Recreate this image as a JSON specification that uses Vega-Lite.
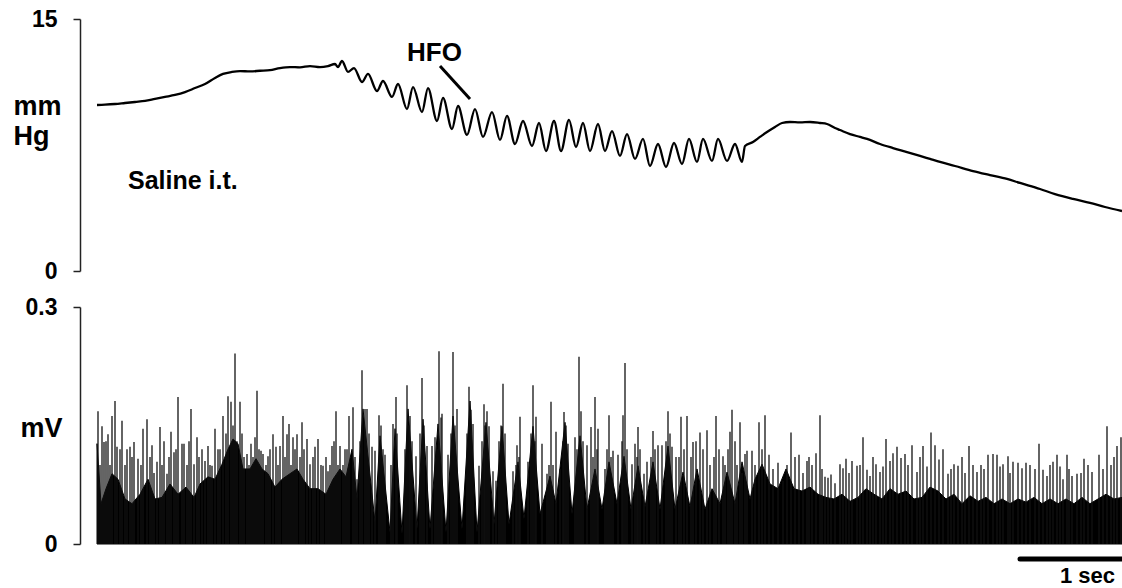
{
  "$schema": "https://vega.github.io/schema/vega-lite/v6.json",
  "background": "white",
  "padding": {"left": 13, "top": 8, "right": 0, "bottom": 0},
  "config": {"view": {"stroke": null}, "font": "Liberation Sans"},
  "spacing": 36,
  "bounds": "flush",
  "datasets": {
    "pressure": [
      {"t":0,"mmHg":9.88},{"t":0.08,"mmHg":9.9},{"t":0.18,"mmHg":9.94},{"t":0.28,"mmHg":10.0},{"t":0.38,"mmHg":10.06},{"t":0.48,"mmHg":10.12},{"t":0.58,"mmHg":10.24},{"t":0.68,"mmHg":10.36},{"t":0.78,"mmHg":10.48},{"t":0.88,"mmHg":10.65},{"t":0.98,"mmHg":10.89},{"t":1.08,"mmHg":11.13},{"t":1.18,"mmHg":11.49},{"t":1.26,"mmHg":11.73},{"t":1.35,"mmHg":11.85},{"t":1.43,"mmHg":11.9},{"t":1.53,"mmHg":11.88},{"t":1.63,"mmHg":11.92},{"t":1.73,"mmHg":11.96},{"t":1.83,"mmHg":12.08},{"t":1.93,"mmHg":12.14},{"t":2.03,"mmHg":12.12},{"t":2.13,"mmHg":12.2},{"t":2.23,"mmHg":12.14},{"t":2.31,"mmHg":12.2},{"t":2.38,"mmHg":12.32},{"t":2.41,"mmHg":12.14},{"t":2.45,"mmHg":12.5},
      {"t":2.51,"mmHg":11.85},{"t":2.57,"mmHg":12.08},{"t":2.65,"mmHg":11.25},{"t":2.71,"mmHg":11.73},{"t":2.8,"mmHg":10.71},{"t":2.86,"mmHg":11.31},{"t":2.95,"mmHg":10.36},{"t":3.01,"mmHg":11.13},{"t":3.1,"mmHg":9.64},{"t":3.16,"mmHg":10.95},{"t":3.25,"mmHg":9.46},{"t":3.31,"mmHg":10.89},{"t":3.4,"mmHg":8.93},{"t":3.46,"mmHg":10.3},{"t":3.55,"mmHg":8.45},{"t":3.61,"mmHg":9.82},{"t":3.7,"mmHg":8.1},{"t":3.78,"mmHg":9.64},{"t":3.86,"mmHg":7.98},{"t":3.95,"mmHg":9.46},{"t":4.03,"mmHg":7.8},{"t":4.1,"mmHg":9.23},{"t":4.18,"mmHg":7.56},{"t":4.26,"mmHg":8.93},{"t":4.35,"mmHg":7.44},{"t":4.42,"mmHg":8.81},{"t":4.49,"mmHg":7.14},{"t":4.57,"mmHg":8.93},{"t":4.64,"mmHg":7.14},{"t":4.72,"mmHg":8.99},{"t":4.79,"mmHg":7.38},{"t":4.86,"mmHg":8.81},{"t":4.93,"mmHg":7.14},{"t":5.01,"mmHg":8.75},{"t":5.08,"mmHg":7.14},{"t":5.15,"mmHg":8.33},{"t":5.23,"mmHg":6.85},{"t":5.3,"mmHg":8.15},{"t":5.38,"mmHg":6.67},{"t":5.46,"mmHg":7.86},{"t":5.53,"mmHg":6.25},{"t":5.61,"mmHg":7.56},{"t":5.69,"mmHg":6.19},{"t":5.77,"mmHg":7.62},{"t":5.85,"mmHg":6.37},{"t":5.92,"mmHg":7.86},{"t":6.0,"mmHg":6.49},{"t":6.06,"mmHg":7.86},{"t":6.15,"mmHg":6.55},{"t":6.21,"mmHg":7.86},{"t":6.3,"mmHg":6.55},{"t":6.38,"mmHg":7.56},{"t":6.45,"mmHg":6.49},
      {"t":6.48,"mmHg":7.44},{"t":6.56,"mmHg":7.68},{"t":6.63,"mmHg":7.98},{"t":6.7,"mmHg":8.27},{"t":6.78,"mmHg":8.57},{"t":6.85,"mmHg":8.81},{"t":6.93,"mmHg":8.87},{"t":7.03,"mmHg":8.85},{"t":7.13,"mmHg":8.87},{"t":7.23,"mmHg":8.81},{"t":7.3,"mmHg":8.75},{"t":7.38,"mmHg":8.51},{"t":7.43,"mmHg":8.39},{"t":7.53,"mmHg":8.15},{"t":7.63,"mmHg":7.98},{"t":7.7,"mmHg":7.86},{"t":7.83,"mmHg":7.56},{"t":7.96,"mmHg":7.32},{"t":8.1,"mmHg":7.08},{"t":8.23,"mmHg":6.85},{"t":8.33,"mmHg":6.67},{"t":8.43,"mmHg":6.49},{"t":8.58,"mmHg":6.25},{"t":8.76,"mmHg":5.95},{"t":8.93,"mmHg":5.71},{"t":9.1,"mmHg":5.48},{"t":9.23,"mmHg":5.24},{"t":9.43,"mmHg":4.88},{"t":9.58,"mmHg":4.58},{"t":9.76,"mmHg":4.29},{"t":9.93,"mmHg":4.05},{"t":10.08,"mmHg":3.81},{"t":10.25,"mmHg":3.57}
    ],
    "envelope": [
      {"t":0,"mV":0.127},{"t":0.04,"mV":0.051},{"t":0.09,"mV":0.07},{"t":0.15,"mV":0.089},{"t":0.21,"mV":0.082},{"t":0.28,"mV":0.057},{"t":0.35,"mV":0.051},{"t":0.43,"mV":0.063},{"t":0.51,"mV":0.082},{"t":0.58,"mV":0.057},{"t":0.65,"mV":0.059},{"t":0.73,"mV":0.076},{"t":0.81,"mV":0.063},{"t":0.89,"mV":0.072},{"t":0.97,"mV":0.059},{"t":1.03,"mV":0.076},{"t":1.11,"mV":0.085},{"t":1.18,"mV":0.082},{"t":1.25,"mV":0.101},{"t":1.31,"mV":0.12},{"t":1.36,"mV":0.133},{"t":1.41,"mV":0.127},{"t":1.46,"mV":0.095},{"t":1.53,"mV":0.095},{"t":1.59,"mV":0.108},{"t":1.65,"mV":0.095},{"t":1.71,"mV":0.089},{"t":1.78,"mV":0.072},{"t":1.85,"mV":0.082},{"t":1.93,"mV":0.089},{"t":2.0,"mV":0.095},{"t":2.06,"mV":0.082},{"t":2.13,"mV":0.07},{"t":2.21,"mV":0.07},{"t":2.29,"mV":0.063},{"t":2.36,"mV":0.082},{"t":2.43,"mV":0.095},{"t":2.49,"mV":0.085},{"t":2.55,"mV":0.12},{"t":2.6,"mV":0.057},
      {"t":2.66,"mV":0.171},{"t":2.78,"mV":0.028},{"t":2.83,"mV":0.137},{"t":2.93,"mV":0.015},{"t":2.98,"mV":0.146},{"t":3.05,"mV":0.013},{"t":3.11,"mV":0.171},{"t":3.2,"mV":0.019},{"t":3.26,"mV":0.158},{"t":3.33,"mV":0.019},{"t":3.41,"mV":0.152},{"t":3.49,"mV":0.015},{"t":3.56,"mV":0.162},{"t":3.65,"mV":0.019},{"t":3.73,"mV":0.181},{"t":3.8,"mV":0.015},{"t":3.89,"mV":0.154},{"t":3.97,"mV":0.025},{"t":4.05,"mV":0.149},{"t":4.12,"mV":0.025},{"t":4.21,"mV":0.104},{"t":4.27,"mV":0.032},{"t":4.36,"mV":0.149},{"t":4.43,"mV":0.038},{"t":4.53,"mV":0.086},{"t":4.59,"mV":0.051},{"t":4.68,"mV":0.154},{"t":4.75,"mV":0.038},{"t":4.83,"mV":0.137},{"t":4.9,"mV":0.044},{"t":4.98,"mV":0.095},{"t":5.05,"mV":0.044},{"t":5.12,"mV":0.104},{"t":5.2,"mV":0.051},{"t":5.27,"mV":0.111},{"t":5.34,"mV":0.044},{"t":5.41,"mV":0.099},{"t":5.48,"mV":0.047},{"t":5.56,"mV":0.104},{"t":5.63,"mV":0.044},{"t":5.71,"mV":0.124},{"t":5.78,"mV":0.044},{"t":5.86,"mV":0.091},{"t":5.93,"mV":0.047},{"t":6.0,"mV":0.095},{"t":6.08,"mV":0.044},{"t":6.15,"mV":0.07},{"t":6.23,"mV":0.051},{"t":6.3,"mV":0.091},{"t":6.38,"mV":0.051},{"t":6.45,"mV":0.104},{"t":6.53,"mV":0.057},
      {"t":6.58,"mV":0.082},{"t":6.65,"mV":0.101},{"t":6.73,"mV":0.076},{"t":6.81,"mV":0.07},{"t":6.89,"mV":0.095},{"t":6.97,"mV":0.07},{"t":7.05,"mV":0.067},{"t":7.13,"mV":0.072},{"t":7.21,"mV":0.063},{"t":7.29,"mV":0.059},{"t":7.37,"mV":0.057},{"t":7.45,"mV":0.063},{"t":7.53,"mV":0.054},{"t":7.61,"mV":0.059},{"t":7.69,"mV":0.07},{"t":7.77,"mV":0.063},{"t":7.85,"mV":0.057},{"t":7.93,"mV":0.07},{"t":8.01,"mV":0.063},{"t":8.09,"mV":0.067},{"t":8.17,"mV":0.057},{"t":8.25,"mV":0.059},{"t":8.33,"mV":0.072},{"t":8.41,"mV":0.067},{"t":8.49,"mV":0.057},{"t":8.57,"mV":0.063},{"t":8.65,"mV":0.051},{"t":8.73,"mV":0.061},{"t":8.81,"mV":0.054},{"t":8.89,"mV":0.059},{"t":8.97,"mV":0.051},{"t":9.05,"mV":0.057},{"t":9.13,"mV":0.051},{"t":9.21,"mV":0.057},{"t":9.29,"mV":0.053},{"t":9.37,"mV":0.059},{"t":9.45,"mV":0.051},{"t":9.53,"mV":0.057},{"t":9.61,"mV":0.051},{"t":9.69,"mV":0.057},{"t":9.77,"mV":0.051},{"t":9.85,"mV":0.059},{"t":9.93,"mV":0.051},{"t":10.01,"mV":0.057},{"t":10.09,"mV":0.063},{"t":10.17,"mV":0.057},{"t":10.25,"mV":0.059}
    ],
    "spikes": [
      {"t":0.01,"mV":0.168},{"t":0.03,"mV":0.1},{"t":0.05,"mV":0.149},{"t":0.07,"mV":0.129},{"t":0.09,"mV":0.13},{"t":0.11,"mV":0.139},{"t":0.13,"mV":0.1},{"t":0.15,"mV":0.162},{"t":0.18,"mV":0.181},{"t":0.2,"mV":0.123},{"t":0.23,"mV":0.12},{"t":0.25,"mV":0.156},{"t":0.28,"mV":0.1},{"t":0.3,"mV":0.12},{"t":0.33,"mV":0.123},{"t":0.35,"mV":0.11},{"t":0.37,"mV":0.129},{"t":0.41,"mV":0.108},{"t":0.44,"mV":0.1},{"t":0.46,"mV":0.146},{"t":0.5,"mV":0.158},{"t":0.53,"mV":0.11},{"t":0.55,"mV":0.125},{"t":0.57,"mV":0.09},{"t":0.6,"mV":0.104},{"t":0.63,"mV":0.148},{"t":0.65,"mV":0.1},{"t":0.67,"mV":0.13},{"t":0.7,"mV":0.089},{"t":0.72,"mV":0.11},{"t":0.74,"mV":0.142},{"t":0.77,"mV":0.116},{"t":0.79,"mV":0.12},{"t":0.81,"mV":0.186},{"t":0.85,"mV":0.127},{"t":0.87,"mV":0.127},{"t":0.9,"mV":0.1},{"t":0.92,"mV":0.13},{"t":0.94,"mV":0.171},{"t":0.97,"mV":0.101},{"t":1.0,"mV":0.135},{"t":1.02,"mV":0.11},{"t":1.05,"mV":0.12},{"t":1.08,"mV":0.105},{"t":1.11,"mV":0.124},{"t":1.13,"mV":0.1},{"t":1.15,"mV":0.099},{"t":1.18,"mV":0.146},{"t":1.21,"mV":0.12},{"t":1.23,"mV":0.12},{"t":1.26,"mV":0.162},{"t":1.29,"mV":0.14},{"t":1.31,"mV":0.187},{"t":1.34,"mV":0.18},{"t":1.36,"mV":0.15},{"t":1.38,"mV":0.241},{"t":1.4,"mV":0.13},{"t":1.43,"mV":0.18},{"t":1.45,"mV":0.14},{"t":1.47,"mV":0.11},{"t":1.5,"mV":0.114},{"t":1.52,"mV":0.1},{"t":1.54,"mV":0.127},{"t":1.56,"mV":0.11},{"t":1.58,"mV":0.135},{"t":1.6,"mV":0.194},{"t":1.62,"mV":0.12},{"t":1.64,"mV":0.118},{"t":1.66,"mV":0.114},{"t":1.69,"mV":0.1},{"t":1.71,"mV":0.111},{"t":1.73,"mV":0.12},{"t":1.76,"mV":0.139},{"t":1.79,"mV":0.123},{"t":1.81,"mV":0.1},{"t":1.83,"mV":0.124},{"t":1.86,"mV":0.162},{"t":1.88,"mV":0.11},{"t":1.9,"mV":0.139},{"t":1.92,"mV":0.152},{"t":1.94,"mV":0.1},{"t":1.96,"mV":0.135},{"t":1.98,"mV":0.12},{"t":2.0,"mV":0.139},{"t":2.03,"mV":0.11},{"t":2.05,"mV":0.154},{"t":2.07,"mV":0.12},{"t":2.1,"mV":0.133},{"t":2.13,"mV":0.101},{"t":2.16,"mV":0.11},{"t":2.18,"mV":0.123},{"t":2.21,"mV":0.133},{"t":2.24,"mV":0.1},{"t":2.26,"mV":0.099},{"t":2.29,"mV":0.11},{"t":2.31,"mV":0.092},{"t":2.33,"mV":0.1},{"t":2.35,"mV":0.124},{"t":2.37,"mV":0.13},{"t":2.39,"mV":0.168},{"t":2.41,"mV":0.1},{"t":2.43,"mV":0.124},{"t":2.46,"mV":0.1},{"t":2.48,"mV":0.12},{"t":2.5,"mV":0.12},{"t":2.52,"mV":0.162},{"t":2.56,"mV":0.173},{"t":2.58,"mV":0.11},{"t":2.6,"mV":0.082},{"t":2.63,"mV":0.13},{"t":2.65,"mV":0.22},
      {"t":2.68,"mV":0.171},{"t":2.7,"mV":0.171},{"t":2.72,"mV":0.14},{"t":2.75,"mV":0.123},{"t":2.78,"mV":0.118},{"t":2.82,"mV":0.163},{"t":2.84,"mV":0.15},{"t":2.86,"mV":0.12},{"t":2.88,"mV":0.113},{"t":2.94,"mV":0.1},{"t":2.96,"mV":0.152},{"t":2.99,"mV":0.186},{"t":3.0,"mV":0.14},{"t":3.08,"mV":0.12},{"t":3.1,"mV":0.201},{"t":3.12,"mV":0.15},{"t":3.13,"mV":0.162},{"t":3.15,"mV":0.13},{"t":3.19,"mV":0.111},{"t":3.23,"mV":0.14},{"t":3.25,"mV":0.21},{"t":3.27,"mV":0.15},{"t":3.3,"mV":0.124},{"t":3.35,"mV":0.124},{"t":3.38,"mV":0.135},{"t":3.4,"mV":0.12},{"t":3.42,"mV":0.244},{"t":3.44,"mV":0.16},{"t":3.45,"mV":0.165},{"t":3.51,"mV":0.113},{"t":3.54,"mV":0.14},{"t":3.56,"mV":0.243},{"t":3.58,"mV":0.15},{"t":3.6,"mV":0.171},{"t":3.7,"mV":0.14},{"t":3.72,"mV":0.199},{"t":3.74,"mV":0.17},{"t":3.76,"mV":0.152},{"t":3.82,"mV":0.099},{"t":3.85,"mV":0.13},{"t":3.87,"mV":0.177},{"t":3.88,"mV":0.15},{"t":3.9,"mV":0.168},{"t":3.92,"mV":0.149},{"t":3.96,"mV":0.092},{"t":3.99,"mV":0.08},{"t":4.02,"mV":0.13},{"t":4.04,"mV":0.15},{"t":4.06,"mV":0.203},{"t":4.08,"mV":0.14},{"t":4.16,"mV":0.092},{"t":4.19,"mV":0.1},{"t":4.2,"mV":0.125},{"t":4.22,"mV":0.11},{"t":4.23,"mV":0.161},{"t":4.31,"mV":0.104},{"t":4.34,"mV":0.14},{"t":4.36,"mV":0.201},{"t":4.38,"mV":0.13},{"t":4.39,"mV":0.161},{"t":4.45,"mV":0.127},{"t":4.5,"mV":0.089},{"t":4.52,"mV":0.1},{"t":4.54,"mV":0.18},{"t":4.56,"mV":0.1},{"t":4.59,"mV":0.142},{"t":4.63,"mV":0.095},{"t":4.66,"mV":0.13},{"t":4.67,"mV":0.167},{"t":4.69,"mV":0.15},{"t":4.71,"mV":0.127},{"t":4.78,"mV":0.135},{"t":4.8,"mV":0.12},{"t":4.82,"mV":0.237},{"t":4.84,"mV":0.168},{"t":4.86,"mV":0.13},{"t":4.9,"mV":0.125},{"t":4.94,"mV":0.148},{"t":4.96,"mV":0.11},{"t":4.98,"mV":0.186},{"t":5.0,"mV":0.12},{"t":5.01,"mV":0.146},{"t":5.08,"mV":0.095},{"t":5.1,"mV":0.12},{"t":5.12,"mV":0.163},{"t":5.14,"mV":0.11},{"t":5.16,"mV":0.118},{"t":5.21,"mV":0.113},{"t":5.25,"mV":0.13},{"t":5.26,"mV":0.163},{"t":5.28,"mV":0.229},{"t":5.3,"mV":0.12},{"t":5.35,"mV":0.101},{"t":5.38,"mV":0.127},{"t":5.4,"mV":0.11},{"t":5.41,"mV":0.148},{"t":5.43,"mV":0.12},{"t":5.47,"mV":0.089},{"t":5.5,"mV":0.104},{"t":5.54,"mV":0.11},{"t":5.56,"mV":0.143},{"t":5.58,"mV":0.12},{"t":5.61,"mV":0.125},{"t":5.65,"mV":0.125},{"t":5.69,"mV":0.13},{"t":5.71,"mV":0.168},{"t":5.73,"mV":0.14},{"t":5.75,"mV":0.123},{"t":5.79,"mV":0.11},{"t":5.82,"mV":0.11},{"t":5.84,"mV":0.161},{"t":5.87,"mV":0.12},{"t":5.9,"mV":0.162},{"t":5.94,"mV":0.11},{"t":5.96,"mV":0.129},{"t":5.99,"mV":0.13},{"t":6.03,"mV":0.141},{"t":6.06,"mV":0.12},{"t":6.1,"mV":0.144},{"t":6.13,"mV":0.1},{"t":6.17,"mV":0.11},{"t":6.19,"mV":0.162},{"t":6.22,"mV":0.12},{"t":6.26,"mV":0.111},{"t":6.28,"mV":0.1},{"t":6.31,"mV":0.12},{"t":6.33,"mV":0.142},{"t":6.35,"mV":0.17},{"t":6.38,"mV":0.13},{"t":6.4,"mV":0.1},
      {"t":6.43,"mV":0.154},{"t":6.45,"mV":0.09},{"t":6.48,"mV":0.114},{"t":6.5,"mV":0.118},{"t":6.55,"mV":0.118},{"t":6.58,"mV":0.1},{"t":6.62,"mV":0.154},{"t":6.65,"mV":0.12},{"t":6.68,"mV":0.163},{"t":6.72,"mV":0.113},{"t":6.76,"mV":0.095},{"t":6.81,"mV":0.103},{"t":6.86,"mV":0.08},{"t":6.9,"mV":0.1},{"t":6.94,"mV":0.141},{"t":6.98,"mV":0.11},{"t":7.02,"mV":0.113},{"t":7.06,"mV":0.09},{"t":7.1,"mV":0.105},{"t":7.12,"mV":0.11},{"t":7.15,"mV":0.1},{"t":7.19,"mV":0.115},{"t":7.23,"mV":0.163},{"t":7.25,"mV":0.095},{"t":7.28,"mV":0.085},{"t":7.31,"mV":0.084},{"t":7.34,"mV":0.088},{"t":7.38,"mV":0.077},{"t":7.43,"mV":0.101},{"t":7.46,"mV":0.096},{"t":7.49,"mV":0.108},{"t":7.52,"mV":0.09},{"t":7.55,"mV":0.105},{"t":7.6,"mV":0.099},{"t":7.63,"mV":0.1},{"t":7.66,"mV":0.135},{"t":7.7,"mV":0.094},{"t":7.73,"mV":0.086},{"t":7.76,"mV":0.11},{"t":7.79,"mV":0.101},{"t":7.83,"mV":0.091},{"t":7.86,"mV":0.098},{"t":7.89,"mV":0.133},{"t":7.93,"mV":0.105},{"t":7.96,"mV":0.115},{"t":8.0,"mV":0.123},{"t":8.04,"mV":0.109},{"t":8.08,"mV":0.114},{"t":8.11,"mV":0.1},{"t":8.15,"mV":0.125},{"t":8.2,"mV":0.091},{"t":8.23,"mV":0.11},{"t":8.26,"mV":0.124},{"t":8.3,"mV":0.098},{"t":8.34,"mV":0.141},{"t":8.38,"mV":0.125},{"t":8.42,"mV":0.107},{"t":8.46,"mV":0.12},{"t":8.51,"mV":0.089},{"t":8.54,"mV":0.095},{"t":8.57,"mV":0.101},{"t":8.61,"mV":0.099},{"t":8.65,"mV":0.11},{"t":8.68,"mV":0.09},{"t":8.72,"mV":0.124},{"t":8.76,"mV":0.1},{"t":8.8,"mV":0.091},{"t":8.84,"mV":0.1},{"t":8.87,"mV":0.095},{"t":8.91,"mV":0.113},{"t":8.96,"mV":0.114},{"t":9.0,"mV":0.113},{"t":9.03,"mV":0.098},{"t":9.06,"mV":0.101},{"t":9.11,"mV":0.111},{"t":9.13,"mV":0.09},{"t":9.16,"mV":0.104},{"t":9.21,"mV":0.103},{"t":9.25,"mV":0.096},{"t":9.29,"mV":0.103},{"t":9.33,"mV":0.1},{"t":9.38,"mV":0.095},{"t":9.42,"mV":0.127},{"t":9.46,"mV":0.094},{"t":9.5,"mV":0.086},{"t":9.53,"mV":0.1},{"t":9.56,"mV":0.104},{"t":9.6,"mV":0.113},{"t":9.63,"mV":0.098},{"t":9.66,"mV":0.082},{"t":9.7,"mV":0.113},{"t":9.72,"mV":0.095},{"t":9.75,"mV":0.086},{"t":9.8,"mV":0.089},{"t":9.84,"mV":0.09},{"t":9.87,"mV":0.108},{"t":9.91,"mV":0.1},{"t":9.95,"mV":0.091},{"t":10.02,"mV":0.113},{"t":10.06,"mV":0.095},{"t":10.1,"mV":0.149},{"t":10.14,"mV":0.1},{"t":10.17,"mV":0.11},{"t":10.2,"mV":0.124},{"t":10.24,"mV":0.135}
    ]
  },
  "vconcat": [
    {
      "width": 1025,
      "height": 252,
      "layer": [
        {
          "data": {"name": "pressure"},
          "mark": {"type": "line", "color": "black", "strokeWidth": 2.3, "interpolate": "monotone"},
          "encoding": {
            "x": {"field": "t", "type": "quantitative", "scale": {"domain": [0, 10.25], "nice": false, "zero": false}, "axis": null},
            "y": {
              "field": "mmHg", "type": "quantitative",
              "scale": {"domain": [0, 15], "nice": false},
              "axis": {
                "values": [0, 15], "grid": false, "offset": 17, "tickSize": 7, "tickWidth": 1.5, "domainWidth": 1.5,
                "tickColor": "#222", "domainColor": "#222", "labelFlush": false,
                "labelFontSize": 23, "labelFontWeight": "bold", "labelColor": "black", "labelPadding": 16, "labelBaseline": "middle",
                "title": ["mm", "Hg"], "titleAngle": 0, "titleFontSize": 27, "titleFontWeight": "bold", "titleColor": "black",
                "titleAlign": "left", "titleBaseline": "alphabetic", "titleX": -67, "titleY": 95, "titleLineHeight": 30
              }
            }
          }
        },
        {
          "data": {"values": [{}]},
          "mark": {"type": "rule", "color": "black", "strokeWidth": 3},
          "encoding": {
            "x": {"datum": 3.43, "type": "quantitative", "scale": {"domain": [0, 10.25], "nice": false, "zero": false}},
            "x2": {"datum": 3.73},
            "y": {"datum": 12.2, "type": "quantitative", "scale": {"domain": [0, 15], "nice": false}},
            "y2": {"datum": 10.24}
          }
        },
        {
          "data": {"values": [{}]},
          "mark": {"type": "text", "text": "HFO", "fontSize": 26, "fontWeight": "bold", "align": "left", "baseline": "alphabetic", "color": "black"},
          "encoding": {
            "x": {"datum": 3.1, "type": "quantitative", "scale": {"domain": [0, 10.25], "nice": false, "zero": false}},
            "y": {"datum": 12.5, "type": "quantitative", "scale": {"domain": [0, 15], "nice": false}}
          }
        },
        {
          "data": {"values": [{}]},
          "mark": {"type": "text", "text": "Saline i.t.", "fontSize": 25, "fontWeight": "bold", "align": "left", "baseline": "alphabetic", "color": "black"},
          "encoding": {
            "x": {"datum": 0.31, "type": "quantitative", "scale": {"domain": [0, 10.25], "nice": false, "zero": false}},
            "y": {"datum": 4.88, "type": "quantitative", "scale": {"domain": [0, 15], "nice": false}}
          }
        }
      ]
    },
    {
      "width": 1025,
      "height": 237,
      "layer": [
        {
          "data": {"name": "envelope"},
          "mark": {"type": "area", "color": "black", "stroke": "black", "strokeWidth": 1, "interpolate": "linear"},
          "encoding": {
            "x": {"field": "t", "type": "quantitative", "scale": {"domain": [0, 10.25], "nice": false, "zero": false}, "axis": null},
            "y": {
              "field": "mV", "type": "quantitative",
              "scale": {"domain": [0, 0.3], "nice": false},
              "axis": {
                "values": [0, 0.3], "format": "~g", "grid": false, "offset": 17, "tickSize": 7, "tickWidth": 1.5, "domainWidth": 1.5,
                "tickColor": "#222", "domainColor": "#222", "labelFlush": false,
                "labelFontSize": 23, "labelFontWeight": "bold", "labelColor": "black", "labelPadding": 16, "labelBaseline": "middle",
                "title": "mV", "titleAngle": 0, "titleFontSize": 27, "titleFontWeight": "bold", "titleColor": "black",
                "titleAlign": "left", "titleBaseline": "alphabetic", "titleX": -60, "titleY": 129
              }
            }
          }
        },
        {
          "data": {"name": "spikes"},
          "mark": {"type": "rule", "color": "#111", "strokeWidth": 1.3},
          "encoding": {
            "x": {"field": "t", "type": "quantitative", "scale": {"domain": [0, 10.25], "nice": false, "zero": false}, "axis": null},
            "y": {"field": "mV", "type": "quantitative", "scale": {"domain": [0, 0.3], "nice": false}},
            "y2": {"datum": 0}
          }
        },
        {
          "data": {"values": [{}]},
          "mark": {"type": "rule", "color": "black", "strokeWidth": 5, "strokeCap": "round"},
          "encoding": {
            "x": {"datum": 9.23, "type": "quantitative", "scale": {"domain": [0, 10.25], "nice": false, "zero": false}},
            "x2": {"datum": 10.25},
            "y": {"datum": -0.019, "type": "quantitative", "scale": {"domain": [0, 0.3], "nice": false}}
          }
        },
        {
          "data": {"values": [{}]},
          "mark": {"type": "text", "text": "1 sec", "fontSize": 22, "fontWeight": "bold", "align": "left", "baseline": "alphabetic", "color": "black"},
          "encoding": {
            "x": {"datum": 9.63, "type": "quantitative", "scale": {"domain": [0, 10.25], "nice": false, "zero": false}},
            "y": {"datum": -0.049, "type": "quantitative", "scale": {"domain": [0, 0.3], "nice": false}}
          }
        }
      ]
    }
  ]
}
